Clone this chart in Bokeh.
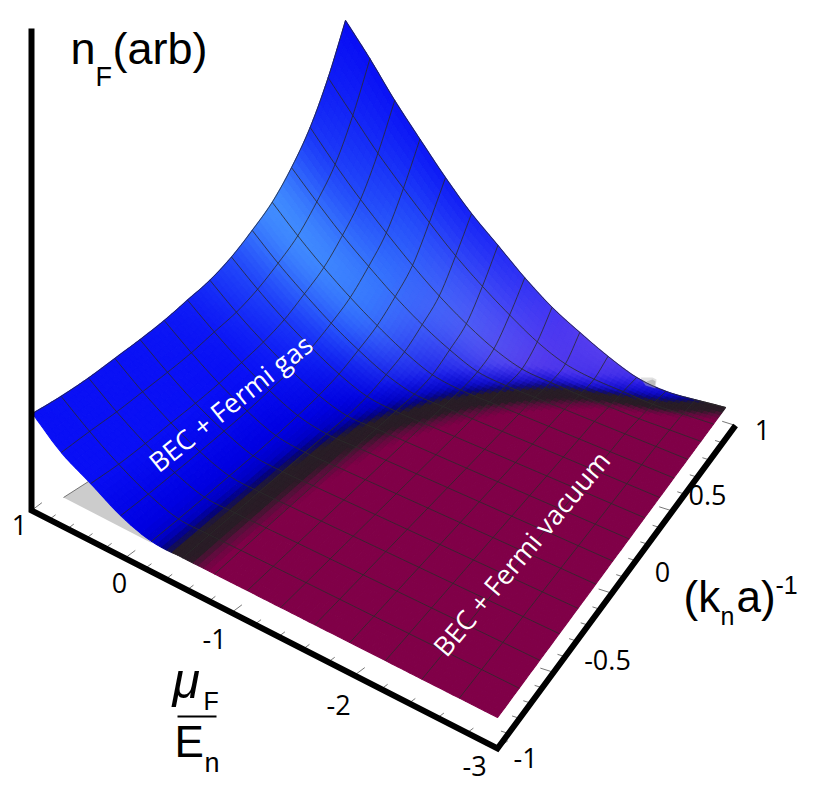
import numpy as np
from bokeh.plotting import figure
from bokeh.models import Range1d, ColumnDataSource
from bokeh.core.properties import value
from bokeh.embed import file_html
from bokeh.resources import INLINE

# ---- data ----
mu_ticks = [1, 0, -1, -2, -3]
k_ticks = [-1, -0.5, 0, 0.5, 1]
k_tick_labels = ["-1", "-0.5", "0", "0.5", "1"]
# surface height on the 15 x 15 mesh: rows = mu from 1 to -3, columns = (k_n a)^-1 from -1 to 1
n_col_00 = [68, 43.6, 27.5, 10.7, 0.5, 0, 0, 0, 0, 0, 0, 0, 0, 0, 0]
n_col_01 = [65, 44, 25.6, 10.4, 0.5, 0, 0, 0, 0, 0, 0, 0, 0, 0, 0]
n_col_02 = [64, 43.7, 25.9, 11, 0.9, 0, 0, 0, 0, 0, 0, 0, 0, 0, 0]
n_col_03 = [65, 44.8, 27, 12, 1.6, 0, 0, 0, 0, 0, 0, 0, 0, 0, 0]
n_col_04 = [66, 46, 28, 13.3, 2.2, 0, 0, 0, 0, 0, 0, 0, 0, 0, 0]
n_col_05 = [68, 48, 30, 15, 3.5, 0, 0, 0, 0, 0, 0, 0, 0, 0, 0]
n_col_06 = [72, 52, 33.6, 18, 5.5, 0, 0, 0, 0, 0, 0, 0, 0, 0, 0]
n_col_07 = [76, 55.6, 37.5, 21.4, 8.3, 0.2, 0, 0, 0, 0, 0, 0, 0, 0, 0]
n_col_08 = [84, 63, 44, 27.5, 13, 2.6, 0, 0, 0, 0, 0, 0, 0, 0, 0]
n_col_09 = [96, 74, 54.5, 36.4, 21, 8, 0.3, 0, 0, 0, 0, 0, 0, 0, 0]
n_col_10 = [110, 87, 66, 47, 30, 15, 3.6, 0, 0, 0, 0, 0, 0, 0, 0]
n_col_11 = [131, 107, 84, 63.5, 44, 27, 13, 2.4, 0, 0, 0, 0, 0, 0, 0]
n_col_12 = [158, 131, 106, 83, 61, 41, 24, 10, 1, -1, -2, -2, -2, -1, 0]
n_col_13 = [195, 167, 139, 114, 90, 67, 47, 29, 13, 2, -2, -3, -4, -2, 0]
n_col_14 = [240, 211, 179, 150, 121.5, 95.6, 74, 52, 33, 18.6, 5.6, -4.4, -7, -4, 0]
n_table = [n_col_00, n_col_01, n_col_02, n_col_03, n_col_04, n_col_05, n_col_06, n_col_07,
           n_col_08, n_col_09, n_col_10, n_col_11, n_col_12, n_col_13, n_col_14]
# phase boundary: mu at which the Fermi gas vanishes, one value per mesh column
mu_boundary = [-0.44, -0.456, -0.48, -0.508, -0.536, -0.58, -0.64, -0.732,
               -0.872, -1.04, -1.26, -1.56, -1.9, -2.5, -3.0]
# highlight on the surface: rows = every second mu mesh line, columns = every second k mesh line
shine_00 = [.03, .04, .06, .15, .50, 1.0, .30, 0]
shine_02 = [.02, .03, .03, .06, .35, .95, .50, .05]
shine_04 = [0, 0, 0, .02, .15, .75, .70, .12]
shine_06 = [0, 0, 0, 0, .03, .35, .80, .30]
shine_08 = [0, 0, 0, 0, 0, .10, .70, .55]
shine_10 = [0, 0, 0, 0, 0, .02, .40, .70]
shine_12 = [0, 0, 0, 0, 0, 0, .10, .30]
shine_14 = [0, 0, 0, 0, 0, 0, 0, 0]
shine_table = [shine_00, shine_02, shine_04, shine_06, shine_08, shine_10, shine_12, shine_14]

# ---- camera: floor plane (u along mu, v along k) to page pixels ----
CAM = dict(a=395.0, b=419.3, c=32.0, d=134.9, e=-141.0, f=481.0, g=-0.141, h=0.308)


def project(u, v, height=0.0):
    w = 1 + CAM["g"] * u + CAM["h"] * v
    return ((CAM["a"] * u + CAM["b"] * v + CAM["c"]) / w,
            (CAM["d"] * u + CAM["e"] * v + CAM["f"]) / w - height)


def refine1(arr, sub, axis):
    arr = np.moveaxis(np.asarray(arr, float), axis, 0)
    n = arr.shape[0]
    pad = np.concatenate([[2 * arr[0] - arr[1]], arr, [2 * arr[-1] - arr[-2]]])
    t = np.linspace(0, n - 1, (n - 1) * sub + 1)
    i = np.minimum(t.astype(int), n - 2)
    s = t - i
    s = s.reshape((-1,) + (1,) * (arr.ndim - 1))
    p0, p1, p2, p3 = pad[i], pad[i + 1], pad[i + 2], pad[i + 3]
    out = 0.5 * (2 * p1 + (p2 - p0) * s + (2 * p0 - 5 * p1 + 4 * p2 - p3) * s ** 2
                 + (3 * p1 - p0 - 3 * p2 + p3) * s ** 3)
    return np.moveaxis(out, 0, axis)


SUB = 6
heights = np.array(n_table).T  # rows mu, columns k
H = refine1(refine1(heights, SUB, 0), SUB, 1)
shine = refine1(refine1(np.array(shine_table), 2 * SUB, 0), 2 * SUB, 1).clip(0, 1)
uc = refine1((1 - np.array(mu_boundary)) / 4, SUB, 0)
N = H.shape[0]
U, V = np.meshgrid(np.linspace(0, 1, N), np.linspace(0, 1, N), indexing="ij")
X, Y = project(U, V, H)

# colours of the surface as a function of distance from the boundary
stops_d = [-.20, -.09, -.055, -.035, -.02, .012, .028, .05]
stops_r = [8, 0, 0, 6, 40, 42, 90, 128]
stops_g = [12, 0, 0, 4, 30, 28, 15, 0]
stops_b = [245, 225, 195, 120, 38, 38, 60, 72]

cu = 0.25 * (U[:-1, :-1] + U[1:, :-1] + U[:-1, 1:] + U[1:, 1:])
cv = 0.25 * (V[:-1, :-1] + V[1:, :-1] + V[:-1, 1:] + V[1:, 1:])
cs = 0.25 * (shine[:-1, :-1] + shine[1:, :-1] + shine[:-1, 1:] + shine[1:, 1:])
cuc = 0.5 * (uc[:-1] + uc[1:])
# the band looks wider, in these coordinates, towards the far corner
D = (cu - cuc[None, :]) / (1.15 + 0.9 * cv ** 3)
R = np.interp(D, stops_d, stops_r)
G = np.interp(D, stops_d, stops_g)
B = np.interp(D, stops_d, stops_b)
mix = np.clip((cu - .25) / .35, 0, 1)
lit_r, lit_g, lit_b = 65 + 55 * mix, 140 - 55 * mix, 255 - 15 * mix
S = cs * np.clip((-D - .02) / .08, 0, 1)
R = R * (1 - S) + lit_r * S
G = G * (1 - S) + lit_g * S
B = B * (1 - S) + lit_b * S

xs, ys, cols = [], [], []
for i in range(N - 1):
    for j in range(N - 2, -1, -1):
        xs.append([X[i, j], X[i + 1, j], X[i + 1, j + 1], X[i, j + 1]])
        ys.append([Y[i, j], Y[i + 1, j], Y[i + 1, j + 1], Y[i, j + 1]])
        cols.append("#%02x%02x%02x" % (int(R[i, j]), int(G[i, j]), int(B[i, j])))

p = figure(width=815, height=786, x_range=Range1d(0, 815), y_range=Range1d(786, 0),
           toolbar_location=None, output_backend="svg", min_border=0)
p.axis.visible = False
p.grid.visible = False
p.outline_line_color = None
p.background_fill_color = "white"

# grey sliver of the floor behind the surface
p.patch([63, 88, 152], [497, 481, 543], fill_color="#cccccc", line_color=None)
p.line([63, 88], [497, 481], line_color="#555555", line_width=0.8)

p.patches("xs", "ys", source=ColumnDataSource(dict(xs=xs, ys=ys, c=cols)),
          fill_color="c", line_color="c", line_width=1.1)

# small grey smudge at the end of the gas edge
p.patch([640, 652, 656, 655, 645], [377, 377, 379, 388, 385], fill_color="#bbbbbb",
        fill_alpha=0.45, line_color=None)
p.patch([646, 652, 655, 654], [381, 379, 381, 387], fill_color="#999999",
        fill_alpha=0.5, line_color=None)

# mesh
mx, my = [], []
for i in range(0, 14):
    mx.append(list(X[i * SUB, :]))
    my.append(list(Y[i * SUB, :]))
for j in range(1, 15):
    mx.append(list(X[:, j * SUB]))
    my.append(list(Y[:, j * SUB]))
p.multi_line(mx, my, line_color="#2a2a2a", line_alpha=0.8, line_width=1.0)

# axes
corner = (31, 510)
bottom = (497, 748)
top = (735, 425)


def along(a, b, t, q):
    f = t / (1 + q * (1 - t))
    return a[0] + (b[0] - a[0]) * f, a[1] + (b[1] - a[1]) * f


tx, ty = [], []
for n in range(21):
    x0, y0 = along(corner, bottom, n / 20, 0.33)
    ln = 13 if n % 5 == 0 else 8
    tx.append([x0, x0 + ln * .8])
    ty.append([y0, y0 - ln * .6])
for n in range(21):
    x0, y0 = along(bottom, top, n / 20, 0.08)
    ln = 14 if n % 5 == 0 else 8
    tx.append([x0, x0 - ln * .95])
    ty.append([y0, y0 - ln * .3])
p.multi_line(tx, ty, line_color="#777777", line_width=1)
p.line([31, 31, 497, 735], [28, 510, 748, 425], line_color="black", line_width=6,
       line_join="miter")

SANS = value("Liberation Sans")
TICK = value("Open Sans")
SHIFT = 0.31  # distance in em between Bokeh's baseline anchor and the drawn baseline


def label(x, y, s, size, font=SANS, color="black", angle=0.0, align="left", style="normal"):
    off = SHIFT * size
    p.text([x - off * np.sin(angle)], [y - off * np.cos(angle)], text=[s], text_font=font,
           text_font_size=f"{size}px", text_color=color, angle=angle, text_align=align,
           text_baseline="alphabetic", text_font_style=style)


# tick labels
for s, (x, y) in zip(mu_ticks, [(19, 533), (119, 591), (214, 647), (338, 713), (474, 774)]):
    label(x, y, str(s), 27, TICK, align="center")
for s, (x, y) in zip(k_tick_labels, [(525, 766), (607, 668), (662, 580), (707, 503), (762, 438)]):
    label(x, y, s, 27, TICK, align="center")

# axis titles
label(70, 62, "n", 45)
label(95, 85, "F", 27)
label(112, 62, "(arb)", 45)
label(172, 696, "\u03bc", 50, style="italic")
label(203, 708, "F", 25)
p.line([177, 216], [716, 716], line_color="black", line_width=2)
label(174, 755, "E", 44)
label(204, 771, "n", 27)
label(683, 610, "(k", 44)
label(720, 623, "n", 25)
label(736, 610, "a)", 44)
label(775, 592, "-1", 25)

# region labels
label(235, 409, "BEC + Fermi gas", 27, TICK, "white", 0.676, "center")
label(527, 558, "BEC + Fermi vacuum", 27, TICK, "white", 0.873, "center")

open("out.html", "w").write(file_html(p, INLINE))
